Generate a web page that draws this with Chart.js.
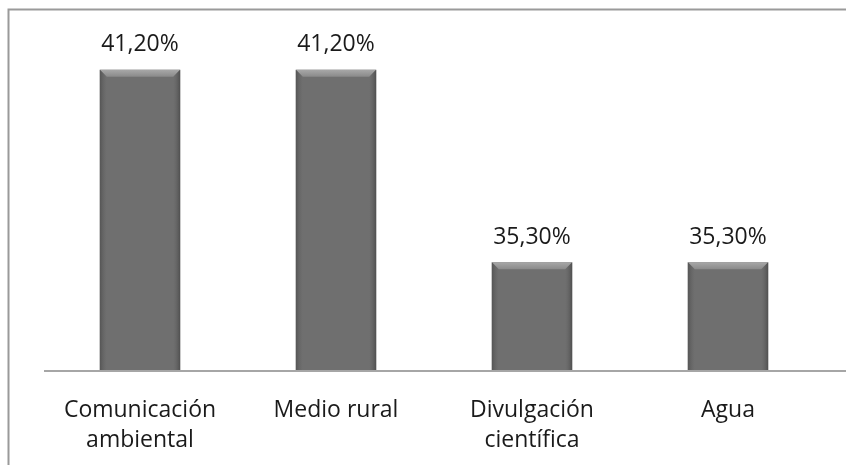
<!DOCTYPE html>
<html>
<head>
<meta charset="utf-8">
<script src="https://cdn.jsdelivr.net/npm/chart.js@4/dist/chart.umd.min.js"></script>
<style>
  html, body { margin: 0; padding: 0; background: #fff; }
  #wrap { width: 846px; height: 465px; }
</style>
</head>
<body>
<div id="wrap"><canvas id="c"></canvas></div>
<script>
// Datos del gráfico
const categorias = [["Comunicación", "ambiental"], "Medio rural", ["Divulgación", "científica"], "Agua"];
const porcentajes = [41.2, 41.2, 35.3, 35.3];
const etiquetas = ["41,20%", "41,20%", "35,30%", "35,30%"];

const FUENTE = "'Open Sans', 'DejaVu Sans', sans-serif";

// marco gris (solo arriba e izquierda, el resto queda recortado)
const marco = {
    id: "marco",
    beforeDraw(chart) {
        const ctx = chart.ctx;
        ctx.save();
        ctx.strokeStyle = "#9a9a9a";
        ctx.lineWidth = 2;
        ctx.beginPath();
        ctx.moveTo(8.5, chart.height);
        ctx.lineTo(8.5, 9.5);
        ctx.lineTo(chart.width, 9.5);
        ctx.stroke();
        ctx.restore();
    }
};

// bisel de las barras, línea del eje y etiquetas de valor
const bisel = {
    id: "bisel",
    afterDatasetsDraw(chart) {
        const ctx = chart.ctx;
        const meta = chart.getDatasetMeta(0);
        const fondo = chart.chartArea.bottom;
        ctx.save();
        meta.data.forEach((bar, i) => {
            const l = bar.x - bar.width / 2, r = bar.x + bar.width / 2;
            const t = bar.y, b = Math.min(bar.base, fondo);
            const e = 7;
            // borde superior claro
            let g = ctx.createLinearGradient(0, t, 0, t + e);
            g.addColorStop(0, "#a8a8a8");
            g.addColorStop(1, "#8a8a8a");
            ctx.fillStyle = g;
            ctx.beginPath();
            ctx.moveTo(l, t); ctx.lineTo(r, t); ctx.lineTo(r - e, t + e); ctx.lineTo(l + e, t + e);
            ctx.closePath(); ctx.fill();
            // lados más oscuros
            g = ctx.createLinearGradient(l, 0, l + e, 0);
            g.addColorStop(0, "#555");
            g.addColorStop(1, "rgba(100,100,100,0)");
            ctx.fillStyle = g;
            ctx.beginPath();
            ctx.moveTo(l, t); ctx.lineTo(l + e, t + e); ctx.lineTo(l + e, b); ctx.lineTo(l, b);
            ctx.closePath(); ctx.fill();
            g = ctx.createLinearGradient(r, 0, r - e, 0);
            g.addColorStop(0, "#4f4f4f");
            g.addColorStop(1, "rgba(100,100,100,0)");
            ctx.fillStyle = g;
            ctx.beginPath();
            ctx.moveTo(r, t); ctx.lineTo(r - e, t + e); ctx.lineTo(r - e, b); ctx.lineTo(r, b);
            ctx.closePath(); ctx.fill();

            ctx.fillStyle = "#1a1a1a";
            ctx.font = "23px " + FUENTE;
            ctx.textAlign = "center";
            ctx.textBaseline = "middle";
            ctx.fillText(etiquetas[i], bar.x, t - 25);
        });

        // línea del eje X, se alarga hasta el borde derecho
        ctx.strokeStyle = "#a6a6a6";
        ctx.lineWidth = 2;
        ctx.beginPath();
        ctx.moveTo(chart.chartArea.left + 2, fondo + 1);
        ctx.lineTo(chart.width, fondo + 1);
        ctx.stroke();
        ctx.restore();
    }
};

new Chart(document.getElementById("c"), {
    type: "bar",
    plugins: [marco, bisel],
    data: {
        labels: categorias,
        datasets: [{
            data: porcentajes,
            backgroundColor: "#6f6f6f",
            borderWidth: 0,
            barPercentage: 0.41,
            categoryPercentage: 1
        }]
    },
    options: {
        responsive: true,
        maintainAspectRatio: false,
        animation: false,
        layout: { padding: { left: 42, right: 20, top: 11, bottom: 0 } },
        plugins: {
            legend: { display: false },
            tooltip: { enabled: false }
        },
        scales: {
            x: {
                grid: { display: false, drawTicks: false },
                border: { display: false },
                ticks: {
                    color: "#1a1a1a",
                    font: { family: FUENTE, size: 23, lineHeight: 1.3 },
                    padding: 26,
                    maxRotation: 0
                },
                afterFit(scale) { scale.height = 95; }
            },
            y: {
                display: false,
                min: 32,
                max: 43
            }
        }
    }
});
</script>
</body>
</html>
